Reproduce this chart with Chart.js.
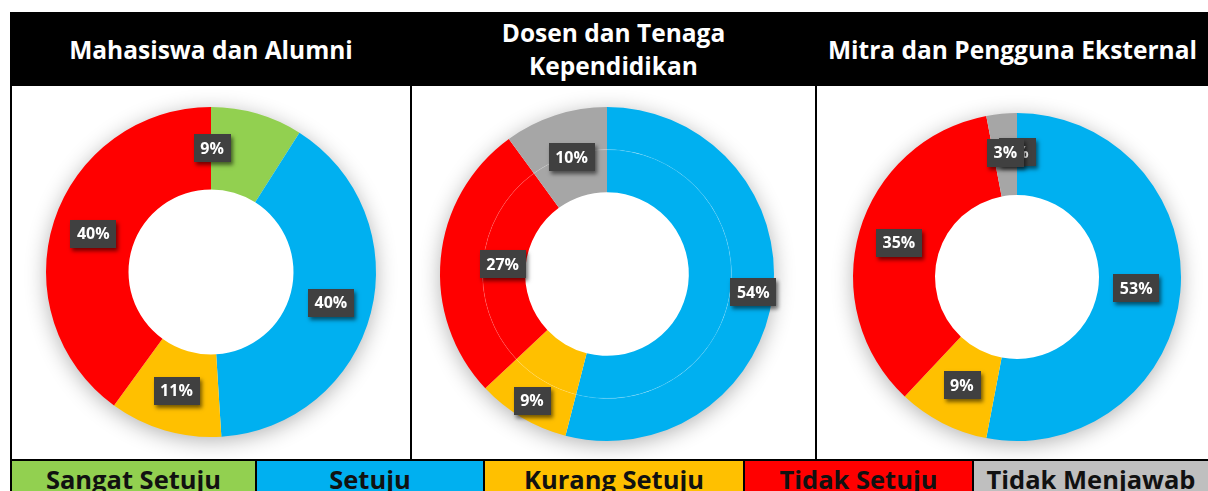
<!DOCTYPE html>
<html>
<head>
<meta charset="utf-8">
<script src="https://cdn.jsdelivr.net/npm/chart.js@4.4.1/dist/chart.umd.min.js"></script>
<style>
  html,body{margin:0;padding:0;background:#fff;}
  #wrap{position:relative;width:1208px;height:491px;overflow:hidden;background:#fff;font-family:"Open Sans",sans-serif;}
  .abs{position:absolute;}
  .title{position:absolute;top:12px;height:74px;display:flex;align-items:center;justify-content:center;text-align:center;color:#fff;font-weight:700;font-size:24.5px;line-height:33px;}
  .cell{position:absolute;top:461px;height:40px;display:flex;justify-content:center;color:#111;font-weight:700;font-size:25.5px;line-height:32px;padding-top:2px;box-sizing:border-box;}
  canvas{position:absolute;}
</style>
</head>
<body>
<div id="wrap"></div>
<script>
// ---- data ----
const categories = ['Sangat Setuju', 'Setuju', 'Kurang Setuju', 'Tidak Setuju', 'Tidak Menjawab'];
const mahasiswaAlumni = [9, 40, 11, 40, 0];
const dosenTendik = [0, 54, 9, 27, 10];
const mitraEksternal = [0, 53, 9, 35, 3];
const panelTitles = ['Mahasiswa dan Alumni', 'Dosen dan Tenaga<br>Kependidikan', 'Mitra dan Pengguna Eksternal'];

// ---- styles / layout ----
const sliceColors = ['#92D050', '#00B0F0', '#FFC000', '#FF0000', '#A6A6A6'];
const legendColors = ['#92D050', '#00B0F0', '#FFC000', '#FF0000', '#BFBFBF'];
const wrap = document.getElementById('wrap');

function box(x, y, w, h, bg) {
  const d = document.createElement('div');
  d.className = 'abs';
  d.style.cssText = `left:${x}px;top:${y}px;width:${w}px;height:${h}px;background:${bg};`;
  wrap.appendChild(d);
  return d;
}

// panels: [left, right]
const panels = [[12, 410], [412, 815], [817, 1208]];
const panelTop = 88, panelBottom = 459;

// header bar
box(10, 12, 1198, 74, '#000');
panels.forEach((p, i) => {
  const t = document.createElement('div');
  t.className = 'title';
  t.style.left = p[0] + 'px';
  t.style.width = (p[1] - p[0]) + 'px';
  t.innerHTML = panelTitles[i];
  wrap.appendChild(t);
});

// donut specs: center (page coords), outer radius
const donutSpecs = [
  {data: mahasiswaAlumni, cx: 211, cy: 272, R: 165, cutout: '50%', rings: 1,
   show: [true, true, true, true, false], angleFrac: [0.015, 0.5, 0.5, 0.5, 0.5], radFrac: [0.5, 0.5, 0.5, 0.5, 0.5]},
  {data: dosenTendik, cx: 607, cy: 274, R: 167, cutout: '49%', rings: 2,
   show: [false, true, true, true, true], angleFrac: [0.5, 0.5, 0.5, 0.5, 0.53], radFrac: [0.5, 0.77, 0.77, 0.27, 0.47]},
  {data: mitraEksternal, cx: 1017, cy: 277, R: 164, cutout: '50%', rings: 1,
   show: [true, true, true, true, true], angleFrac: [0.5, 0.5, 0.5, 0.5, 0.5], radFrac: [0.52, 0.46, 0.48, 0.5, 0.52]}
];

const shadowPlugin = {
  id: 'ringShadow',
  beforeDatasetsDraw(chart) {
    const m = chart.getDatasetMeta(0).data[0];
    if (!m) return;
    const ctx = chart.ctx;
    ctx.save();
    ctx.shadowColor = 'rgba(0,0,0,0.32)';
    ctx.shadowBlur = 22;
    ctx.shadowOffsetX = 0;
    ctx.shadowOffsetY = 4;
    ctx.fillStyle = '#ffffff';
    ctx.beginPath();
    ctx.arc(m.x, m.y, m.outerRadius - 1, 0, Math.PI * 2);
    ctx.fill();
    ctx.restore();
  }
};

const labelPlugin = {
  id: 'boxLabels',
  afterDatasetsDraw(chart, args, opts) {
    const ctx = chart.ctx;
    const n = chart.data.datasets.length;
    const outerMeta = chart.getDatasetMeta(0);
    const innerMeta = chart.getDatasetMeta(n - 1);
    const outerR = outerMeta.data[0].outerRadius;
    const innerR = innerMeta.data[0].innerRadius;
    const cx = outerMeta.data[0].x, cy = outerMeta.data[0].y;
    // faint separation between rings
    if (n > 1) {
      for (let k = 1; k < n; k++) {
        const r = chart.getDatasetMeta(k).data[0].outerRadius;
        ctx.save();
        ctx.strokeStyle = 'rgba(255,255,255,0.13)';
        ctx.lineWidth = 1;
        ctx.beginPath();
        ctx.arc(cx, cy, r, 0, Math.PI * 2);
        ctx.stroke();
        ctx.restore();
      }
    }
    const values = chart.data.datasets[0].data;
    ctx.save();
    ctx.font = 'bold 16px "Open Sans", sans-serif';
    ctx.textAlign = 'center';
    ctx.textBaseline = 'middle';
    outerMeta.data.forEach((arc, i) => {
      if (!opts.show[i]) return;
      const a = arc.startAngle + opts.angleFrac[i] * (arc.endAngle - arc.startAngle);
      const r = innerR + opts.radFrac[i] * (outerR - innerR);
      const x = cx + r * Math.cos(a), y = cy + r * Math.sin(a);
      const txt = values[i] + '%';
      const w = ctx.measureText(txt).width + 13, h = 28;
      ctx.save();
      ctx.shadowColor = 'rgba(0,0,0,0.55)';
      ctx.shadowBlur = 4;
      ctx.shadowOffsetX = 2;
      ctx.shadowOffsetY = 3;
      ctx.fillStyle = '#404040';
      ctx.fillRect(Math.round(x - w / 2), Math.round(y - h / 2), Math.round(w), h);
      ctx.restore();
      ctx.fillStyle = '#ffffff';
      ctx.fillText(txt, x, y + 1);
    });
    ctx.restore();
  }
};

donutSpecs.forEach((s, i) => {
  const p = panels[i];
  const cw = p[1] - p[0], ch = panelBottom - panelTop;
  const c = document.createElement('canvas');
  c.width = cw; c.height = ch;
  c.style.left = p[0] + 'px'; c.style.top = panelTop + 'px';
  c.style.width = cw + 'px'; c.style.height = ch + 'px';
  wrap.appendChild(c);
  const lx = s.cx - p[0], ly = s.cy - panelTop;
  const padding = {left: lx - s.R, right: cw - lx - s.R, top: ly - s.R, bottom: ch - ly - s.R};
  const datasets = [];
  for (let k = 0; k < s.rings; k++) {
    datasets.push({data: s.data, backgroundColor: sliceColors, borderWidth: 0, hoverOffset: 0});
  }
  new Chart(c, {
    type: 'doughnut',
    data: {labels: categories, datasets},
    options: {
      responsive: false,
      animation: false,
      events: [],
      cutout: s.cutout,
      layout: {padding},
      plugins: {
        legend: {display: false},
        tooltip: {enabled: false},
        boxLabels: {show: s.show, angleFrac: s.angleFrac, radFrac: s.radFrac}
      }
    },
    plugins: [shadowPlugin, labelPlugin]
  });
});

// panel borders
box(10, 86, 2, 405, '#000');
box(410, 86, 2, 374, '#000');
box(815, 86, 2, 374, '#000');
box(10, 459, 1198, 32, '#000');

// legend cells
const legendEdges = [[12, 255], [257, 483], [485, 743], [745, 972], [974, 1208]];
categories.forEach((cat, i) => {
  const e = legendEdges[i];
  const d = document.createElement('div');
  d.className = 'cell';
  d.style.left = e[0] + 'px';
  d.style.width = (e[1] - e[0]) + 'px';
  d.style.background = legendColors[i];
  d.textContent = cat;
  wrap.appendChild(d);
});
</script>
</body>
</html>
